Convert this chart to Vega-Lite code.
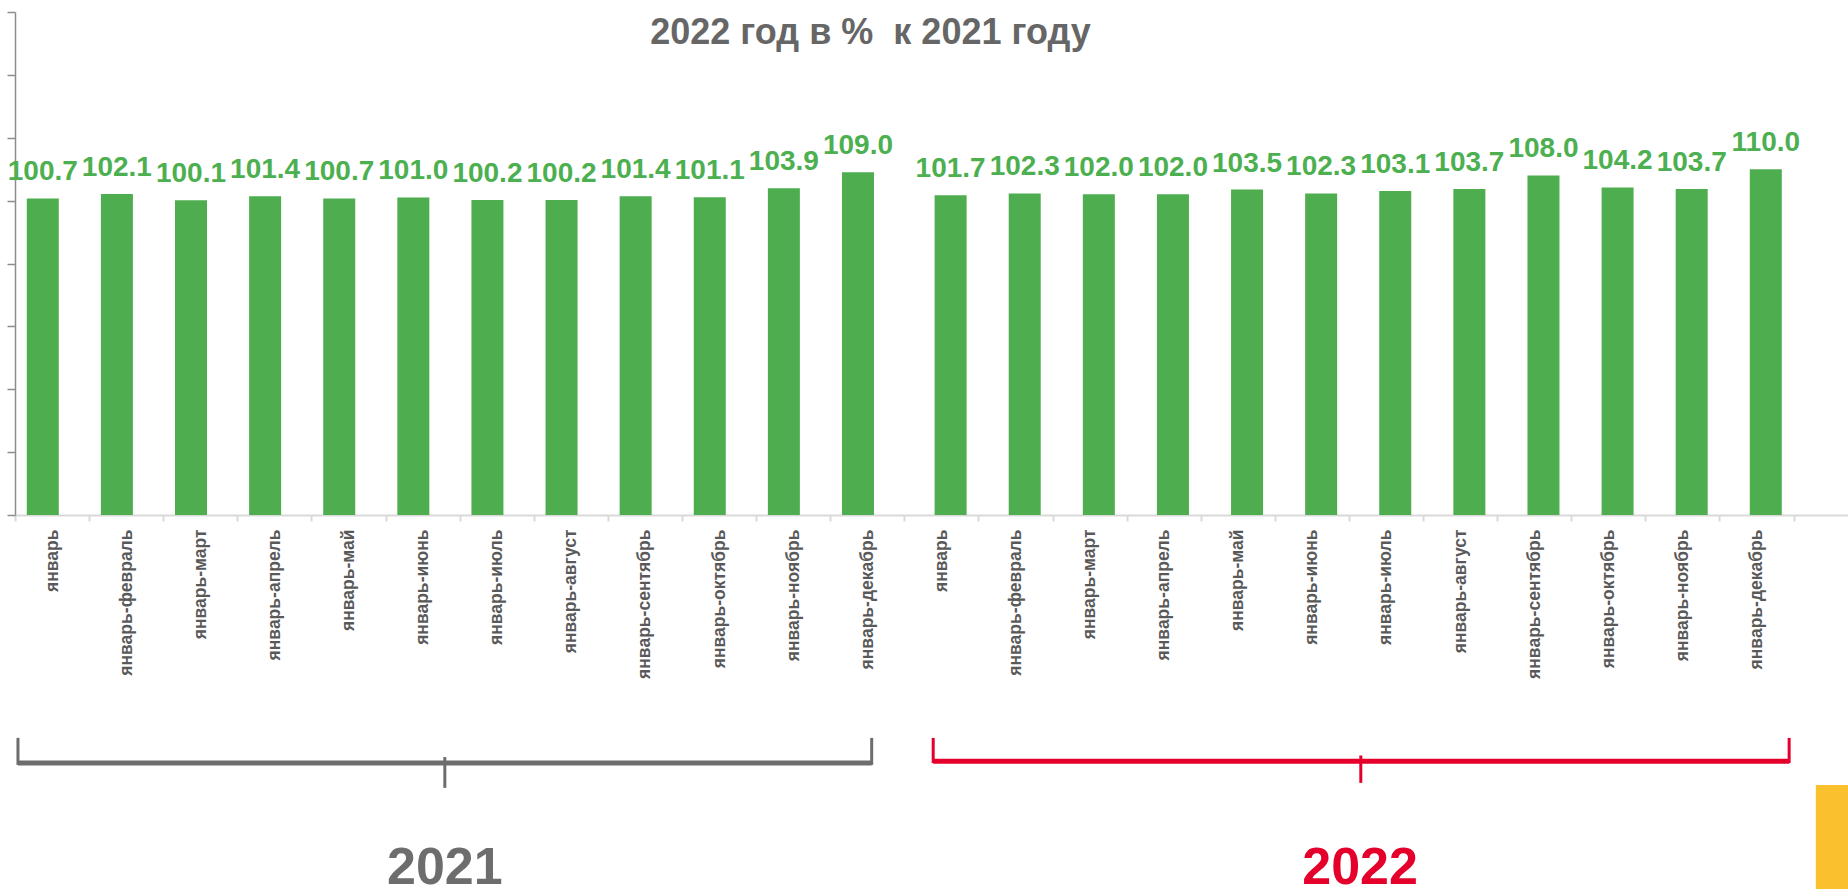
{
  "$schema": "https://vega.github.io/schema/vega-lite/v6.json",
  "width": 1833,
  "height": 503,
  "autosize": {"type": "none"},
  "padding": {"left": 15, "top": 12, "right": 0, "bottom": 374},
  "background": "white",
  "title": {
    "text": "2022 год в %\u00a0 к 2021 году",
    "font": "Liberation Sans",
    "fontSize": 36,
    "fontWeight": "bold",
    "color": "#666666",
    "anchor": "middle",
    "baseline": "alphabetic",
    "offset": 0,
    "dy": 69,
    "dx": -61
  },
  "data": {
    "values": [
      {"key": "2021|январь", "year": "2021", "value": 100.7},
      {"key": "2021|январь-февраль", "year": "2021", "value": 102.1},
      {"key": "2021|январь-март", "year": "2021", "value": 100.1},
      {"key": "2021|январь-апрель", "year": "2021", "value": 101.4},
      {"key": "2021|январь-май", "year": "2021", "value": 100.7},
      {"key": "2021|январь-июнь", "year": "2021", "value": 101.0},
      {"key": "2021|январь-июль", "year": "2021", "value": 100.2},
      {"key": "2021|январь-август", "year": "2021", "value": 100.2},
      {"key": "2021|январь-сентябрь", "year": "2021", "value": 101.4},
      {"key": "2021|январь-октябрь", "year": "2021", "value": 101.1},
      {"key": "2021|январь-ноябрь", "year": "2021", "value": 103.9},
      {"key": "2021|январь-декабрь", "year": "2021", "value": 109.0},
      {"key": "2022|январь", "year": "2022", "value": 101.7},
      {"key": "2022|январь-февраль", "year": "2022", "value": 102.3},
      {"key": "2022|январь-март", "year": "2022", "value": 102.0},
      {"key": "2022|январь-апрель", "year": "2022", "value": 102.0},
      {"key": "2022|январь-май", "year": "2022", "value": 103.5},
      {"key": "2022|январь-июнь", "year": "2022", "value": 102.3},
      {"key": "2022|январь-июль", "year": "2022", "value": 103.1},
      {"key": "2022|январь-август", "year": "2022", "value": 103.7},
      {"key": "2022|январь-сентябрь", "year": "2022", "value": 108.0},
      {"key": "2022|январь-октябрь", "year": "2022", "value": 104.2},
      {"key": "2022|январь-ноябрь", "year": "2022", "value": 103.7},
      {"key": "2022|январь-декабрь", "year": "2022", "value": 110.0}
    ]
  },
  "layer": [
    {
      "encoding": {
        "x": {
          "field": "key",
          "type": "nominal",
          "sort": null,
          "scale": {"paddingInner": 0, "paddingOuter": 0.3671, "align": 0},
          "axis": {
            "title": null,
            "labelExpr": "split(datum.label, '|')[1]",
            "labelAngle": -90,
            "labelFont": "Liberation Sans",
            "labelFontWeight": "bold",
            "labelFontSize": 17.5,
            "labelColor": "#595959",
            "labelPadding": 8,
            "labelOverlap": false,
            "labelLimit": 300,
            "domainColor": "#d9d9d9",
            "domainWidth": 2,
            "tickColor": "#d9d9d9",
            "tickWidth": 2,
            "tickSize": 6,
            "tickBand": "extent",
            "grid": false
          }
        },
        "xOffset": {
          "field": "year",
          "type": "nominal",
          "scale": {"paddingInner": 0, "paddingOuter": 1.85}
        },
        "y": {
          "field": "value",
          "type": "quantitative",
          "scale": {"domain": [0, 160], "nice": false},
          "axis": {
            "title": null,
            "values": [0, 20, 40, 60, 80, 100, 120, 140, 160],
            "labels": false,
            "grid": false,
            "domainColor": "#8c8c8c",
            "domainWidth": 1.5,
            "tickColor": "#8c8c8c",
            "tickWidth": 1.5,
            "tickSize": 8
          }
        }
      },
      "layer": [
        {"mark": {"type": "bar", "width": 32, "color": "#4EAD4F"}},
        {
          "mark": {
            "type": "text",
            "font": "Liberation Sans",
            "fontWeight": "bold",
            "fontSize": 28,
            "color": "#4CAF50",
            "baseline": "alphabetic",
            "align": "center",
            "dy": -18
          },
          "encoding": {"text": {"field": "value", "type": "quantitative", "format": ".1f"}}
        }
      ]
    },
    {
      "data": {"values": [{}]},
      "mark": {"type": "rule", "color": "#6d6d6d", "strokeWidth": 5},
      "encoding": {
        "x": {"datum": 0.04, "type": "quantitative", "scale": {"domain": [0, 24.7342], "nice": false, "zero": false}, "axis": null},
        "x2": {"datum": 11.56},
        "y": {"datum": -78.9, "type": "quantitative", "scale": {"domain": [0, 160], "nice": false}, "axis": null}
      }
    },
    {
      "data": {"values": [{}]},
      "mark": {"type": "rule", "color": "#6d6d6d", "strokeWidth": 3},
      "encoding": {
        "x": {"datum": 0.04, "type": "quantitative", "scale": {"domain": [0, 24.7342], "nice": false, "zero": false}, "axis": null},
        "y": {"datum": -70.9, "type": "quantitative", "scale": {"domain": [0, 160], "nice": false}, "axis": null},
        "y2": {"datum": -79.5}
      }
    },
    {
      "data": {"values": [{}]},
      "mark": {"type": "rule", "color": "#6d6d6d", "strokeWidth": 3},
      "encoding": {
        "x": {"datum": 11.56, "type": "quantitative", "scale": {"domain": [0, 24.7342], "nice": false, "zero": false}, "axis": null},
        "y": {"datum": -70.9, "type": "quantitative", "scale": {"domain": [0, 160], "nice": false}, "axis": null},
        "y2": {"datum": -79.5}
      }
    },
    {
      "data": {"values": [{}]},
      "mark": {"type": "rule", "color": "#6d6d6d", "strokeWidth": 3},
      "encoding": {
        "x": {"datum": 5.80, "type": "quantitative", "scale": {"domain": [0, 24.7342], "nice": false, "zero": false}, "axis": null},
        "y": {"datum": -77.0, "type": "quantitative", "scale": {"domain": [0, 160], "nice": false}, "axis": null},
        "y2": {"datum": -86.8}
      }
    },
    {
      "data": {"values": [{}]},
      "mark": {"type": "rule", "color": "#e4002b", "strokeWidth": 5},
      "encoding": {
        "x": {"datum": 12.39, "type": "quantitative", "scale": {"domain": [0, 24.7342], "nice": false, "zero": false}, "axis": null},
        "x2": {"datum": 23.94},
        "y": {"datum": -78.3, "type": "quantitative", "scale": {"domain": [0, 160], "nice": false}, "axis": null}
      }
    },
    {
      "data": {"values": [{}]},
      "mark": {"type": "rule", "color": "#e4002b", "strokeWidth": 3},
      "encoding": {
        "x": {"datum": 12.39, "type": "quantitative", "scale": {"domain": [0, 24.7342], "nice": false, "zero": false}, "axis": null},
        "y": {"datum": -70.9, "type": "quantitative", "scale": {"domain": [0, 160], "nice": false}, "axis": null},
        "y2": {"datum": -78.9}
      }
    },
    {
      "data": {"values": [{}]},
      "mark": {"type": "rule", "color": "#e4002b", "strokeWidth": 3},
      "encoding": {
        "x": {"datum": 23.94, "type": "quantitative", "scale": {"domain": [0, 24.7342], "nice": false, "zero": false}, "axis": null},
        "y": {"datum": -70.9, "type": "quantitative", "scale": {"domain": [0, 160], "nice": false}, "axis": null},
        "y2": {"datum": -78.9}
      }
    },
    {
      "data": {"values": [{}]},
      "mark": {"type": "rule", "color": "#e4002b", "strokeWidth": 3},
      "encoding": {
        "x": {"datum": 18.16, "type": "quantitative", "scale": {"domain": [0, 24.7342], "nice": false, "zero": false}, "axis": null},
        "y": {"datum": -76.5, "type": "quantitative", "scale": {"domain": [0, 160], "nice": false}, "axis": null},
        "y2": {"datum": -85.2}
      }
    },
    {
      "data": {"values": [{}]},
      "mark": {"type": "text", "text": "2021", "font": "Liberation Sans", "fontWeight": "bold", "fontSize": 52, "color": "#6d6d6d", "baseline": "alphabetic", "align": "center"},
      "encoding": {
        "x": {"datum": 5.80, "type": "quantitative", "scale": {"domain": [0, 24.7342], "nice": false, "zero": false}, "axis": null},
        "y": {"datum": -117.5, "type": "quantitative", "scale": {"domain": [0, 160], "nice": false}, "axis": null}
      }
    },
    {
      "data": {"values": [{}]},
      "mark": {"type": "text", "text": "2022", "font": "Liberation Sans", "fontWeight": "bold", "fontSize": 52, "color": "#e4002b", "baseline": "alphabetic", "align": "center"},
      "encoding": {
        "x": {"datum": 18.15, "type": "quantitative", "scale": {"domain": [0, 24.7342], "nice": false, "zero": false}, "axis": null},
        "y": {"datum": -117.5, "type": "quantitative", "scale": {"domain": [0, 160], "nice": false}, "axis": null}
      }
    },
    {
      "data": {"values": [{}]},
      "mark": {"type": "rect", "color": "#FBC02D"},
      "encoding": {
        "x": {"datum": 24.30, "type": "quantitative", "scale": {"domain": [0, 24.7342], "nice": false, "zero": false}, "axis": null},
        "x2": {"datum": 24.80},
        "y": {"datum": -85.9, "type": "quantitative", "scale": {"domain": [0, 160], "nice": false}, "axis": null},
        "y2": {"datum": -125}
      }
    }
  ],
  "resolve": {"scale": {"x": "independent"}, "axis": {"y": "independent"}},
  "config": {
    "view": {"stroke": null},
    "font": "Liberation Sans"
  }
}
